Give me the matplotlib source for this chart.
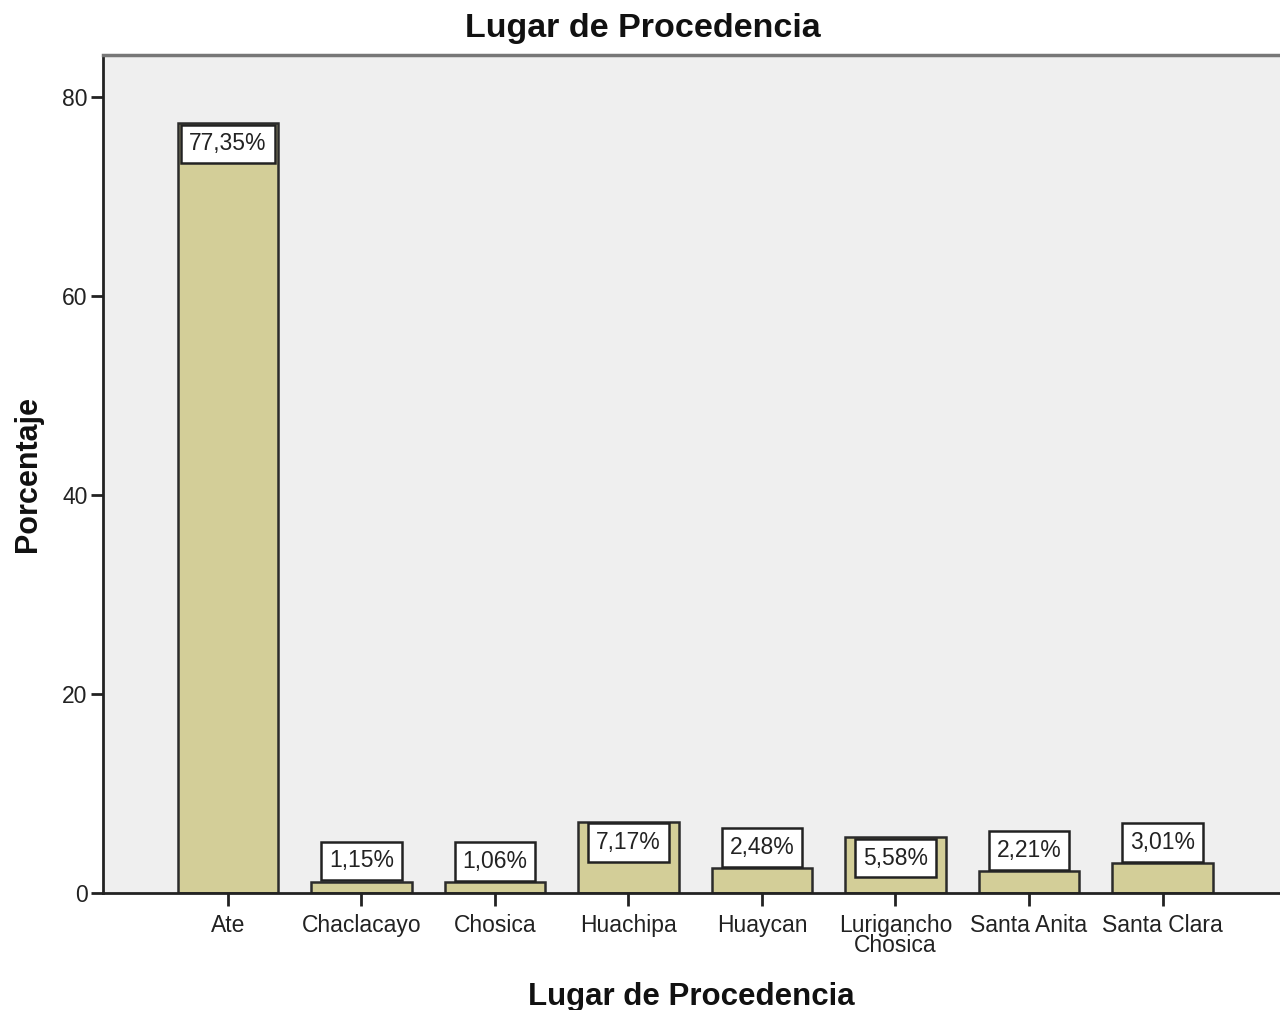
import matplotlib
matplotlib.use("Agg")
import matplotlib.pyplot as plt

categories = ["Ate", "Chaclacayo", "Chosica", "Huachipa", "Huaycan",
              "Lurigancho\nChosica", "Santa Anita", "Santa Clara"]
values = [77.35, 1.15, 1.06, 7.17, 2.48, 5.58, 2.21, 3.01]
value_labels = ["77,35%", "1,15%", "1,06%", "7,17%", "2,48%", "5,58%", "2,21%", "3,01%"]
yticks = [0, 20, 40, 60, 80]

plt.rcParams['font.family'] = ['Liberation Sans', 'DejaVu Sans']

fig = plt.figure(figsize=(12.8, 10.1), dpi=100)
ax = fig.add_axes([103/1280, 1 - 893/1010, 1 - 103/1280, (893 - 55)/1010])
ax.set_facecolor('#EFEFEF')

x = list(range(len(categories)))
ax.bar(x, values, width=0.75, color='#D3CE98', edgecolor='#2b2b2b', linewidth=1.8, zorder=2)

ax.set_xlim(-0.936, 7.88)
ax.set_ylim(0, 84.2)
ax.set_yticks(yticks)
ax.set_yticklabels([str(t) for t in yticks])
ax.set_xticks(x)
ax.set_xticklabels(categories, linespacing=0.85)
ax.tick_params(axis='both', labelsize=16.5, width=2, length=9, color='#222222', labelcolor='#222222')
ax.tick_params(axis='x', pad=6)
ax.tick_params(axis='y', pad=2)

ax.spines['right'].set_visible(False)
ax.spines['top'].set_color('#777777')
ax.spines['top'].set_linewidth(2.5)
for s in ['left', 'bottom']:
    ax.spines[s].set_color('#222222')
    ax.spines[s].set_linewidth(2)

fs_lab = 16.5
pad = 0.34
off = pad * fs_lab + 1
inside_threshold = 4.0
for xi, v, lab in zip(x, values, value_labels):
    inside = v > inside_threshold
    ax.annotate(lab, (xi, v), xytext=(0, -off if inside else off), textcoords='offset points',
                ha='center', va='top' if inside else 'bottom', fontsize=fs_lab,
                color='#222222', zorder=4,
                bbox=dict(boxstyle=f'square,pad={pad}', fc='white', ec='#222222', lw=1.8))

fig.text(0.5025, 1 - 28/1010, "Lugar de Procedencia", ha='center', va='center',
         fontsize=24.5, fontweight='bold', color='#111111')
ax.set_xlabel("Lugar de Procedencia", fontsize=22.5, fontweight='bold', color='#111111', labelpad=18)
ax.set_ylabel("Porcentaje", fontsize=22, fontweight='bold', color='#111111', labelpad=14)

fig.savefig("out.png", dpi=100)
